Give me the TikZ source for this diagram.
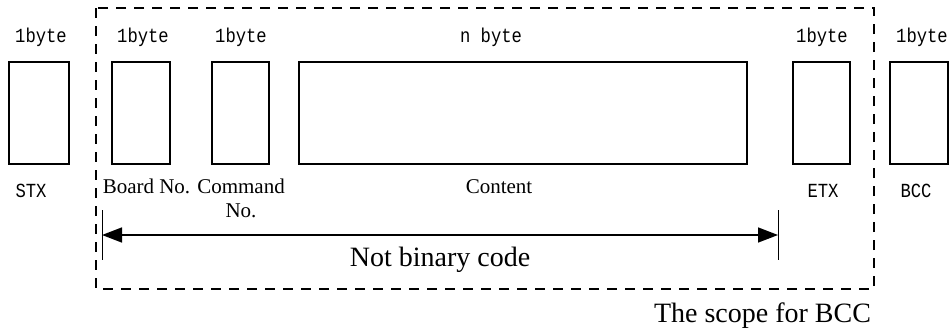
\documentclass[tikz,border=0pt]{standalone}
\usepackage{fontspec}
\setmainfont{Liberation Serif}
\newfontfamily\bytefont[FakeStretch=0.86]{Liberation Mono}
\usetikzlibrary{arrows.meta}
\begin{document}
\begin{tikzpicture}[x=0.5pt,y=-0.5pt,
  cell/.style={draw, line width=1.1pt, inner sep=0pt, minimum height=51pt},
  bytes/.style={anchor=base, inner sep=0pt, font=\bytefont\fontsize{10}{12}\selectfont},
  lbl/.style={anchor=base, inner sep=0pt, align=center, font=\fontsize{10.5}{12}\selectfont},
  note/.style={anchor=base, inner sep=0pt, font=\fontsize{14}{16}\selectfont}]
\useasboundingbox (0,0) rectangle (951,332);
% scope of BCC
\draw[line width=1pt, dash pattern=on 5pt off 4pt] (96,8) rectangle (874,289);
% fields
\node[cell, minimum width=30pt] (stx) at (39,113) {};
\node[cell, minimum width=29pt] (board) at (141,113) {};
\node[cell, minimum width=28.5pt] (cmd) at (240.5,113) {};
\node[cell, minimum width=224pt] (content) at (523,113) {};
\node[cell, minimum width=28.5pt] (etx) at (821.5,113) {};
\node[cell, minimum width=29pt] (bcc) at (919,113) {};
% sizes
\node[bytes] (stxsize) at (41,42) {1byte};
\node[bytes] (boardsize) at (143,42) {1byte};
\node[bytes] (cmdsize) at (241,42) {1byte};
\node[bytes] (contentsize) at (491,42) {n byte};
\node[bytes] (etxsize) at (822,42) {1byte};
\node[bytes] (bccsize) at (922,42) {1byte};
% names
\node[bytes] (stxname) at (31,197) {STX};
\node[lbl] (boardname) at (146.5,193) {Board No.};
\node[lbl] (cmdname) at (241,217) {Command\\No.};
\node[lbl] (contentname) at (499,193) {Content};
\node[bytes] (etxname) at (823,197) {ETX};
\node[bytes] (bccname) at (916,197) {BCC};
% not binary range
\coordinate (nbleft) at (102,235);
\coordinate (nbright) at (778,235);
\draw[line width=0.5pt] (nbleft) ++(0,-25) -- ++(0,50);
\draw[line width=0.5pt] (nbright) ++(0,-25) -- ++(0,50);
\draw[line width=0.75pt, {Triangle[length=10pt,width=7.5pt]}-{Triangle[length=10pt,width=7.5pt]}] (nbleft) -- (nbright);
\node[note] (nbtext) at (440,266) {Not binary code};
\node[note] (scopetext) at (762.5,322) {The scope for BCC};
\end{tikzpicture}
\end{document}
